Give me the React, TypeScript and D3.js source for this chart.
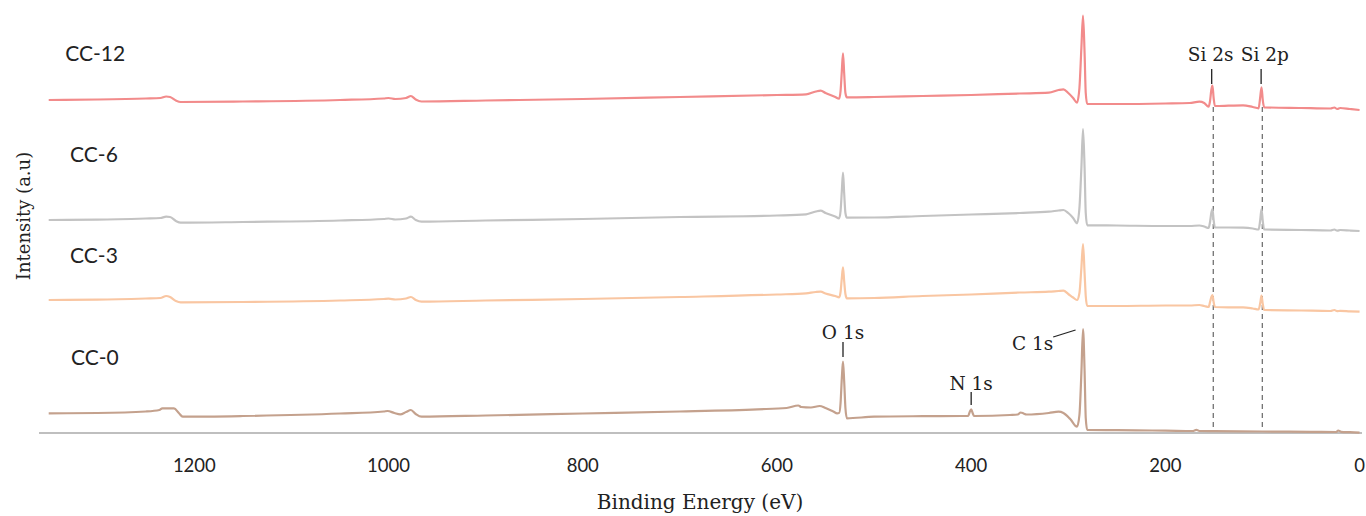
import React from "react";
import * as d3 from "d3";

// Binding energy (eV) / intensity (a.u., stacked) pairs
const cc12: [number, number][] = [
  [1350, 333], [1300, 333.5], [1250, 334.5], [1235, 335], [1229, 336.5], [1225, 336], [1219, 332.5], [1214, 331],
  [1150, 331.5], [1050, 333], [1005, 334.5], [1000, 335], [993, 334], [982, 335], [977, 337], [972, 333.5], [966, 331.5],
  [900, 332.5], [800, 334], [700, 336], [600, 338], [570, 338.7], [560, 341.5], [555, 342.3], [550, 340], [540, 336],
  [536, 334.3], [534.5, 342], [533.2, 362], [532, 379.7], [530.8, 360], [529.5, 340], [528, 335.7], [500, 336],
  [450, 337], [400, 338], [350, 339.5], [320, 340.3], [310, 343], [305, 343.7], [300, 340], [295, 335], [291, 330.3],
  [288.5, 345], [286.5, 385], [284.8, 417.3], [283.2, 380], [282, 340], [280.5, 329], [250, 329], [200, 329.5],
  [175, 330], [165, 331.3], [160, 330], [155.5, 326.3], [154, 332], [152.7, 343], [151.5, 347.3], [150.3, 335],
  [149, 327], [135, 327.3], [120, 327.7], [110, 326], [104, 324.7], [102.3, 336], [101, 345.7], [99.7, 333],
  [98.3, 325.7], [60, 325], [30, 324.5], [26, 325.5], [23, 324], [20, 325], [10, 324], [0, 323],
];

const cc6: [number, number][] = [
  [1350, 213], [1300, 213.3], [1250, 214.5], [1235, 215], [1229, 216.3], [1225, 216], [1219, 212], [1214, 210.3],
  [1150, 211], [1050, 212.5], [1005, 214], [1000, 214.5], [993, 213.5], [982, 214.5], [977, 216.3], [972, 213], [966, 211.3],
  [900, 212.5], [800, 214], [700, 216], [600, 217.5], [570, 218.7], [560, 221.5], [555, 222.3], [550, 220], [540, 216.5],
  [536, 214.7], [534.5, 222], [533.2, 242], [532, 260.3], [530.8, 240], [529.5, 220], [528, 215.3], [500, 215.5],
  [450, 217], [400, 218.5], [350, 220], [320, 221.3], [310, 222.5], [305, 223], [300, 220], [295, 215], [291, 209.7],
  [288.5, 225], [286.5, 265], [284.8, 304], [283.2, 265], [282, 220], [280.5, 207.7], [250, 207.5], [200, 207],
  [175, 207], [165, 207.5], [160, 206.5], [155.5, 205], [154, 211], [152.7, 220], [151.5, 224], [150.3, 213],
  [149, 205.5], [135, 205.5], [120, 205.3], [110, 204.5], [104, 203.5], [102.3, 213], [101, 224], [99.7, 212],
  [98.3, 203.5], [60, 203], [30, 202.5], [26, 203.5], [23, 202.3], [20, 203], [10, 202.5], [0, 202],
];

const cc3: [number, number][] = [
  [1350, 133], [1300, 133.3], [1250, 134.5], [1235, 135], [1229, 137], [1225, 136], [1219, 132], [1214, 130.7],
  [1150, 131], [1050, 132.5], [1005, 134], [1000, 134.3], [993, 133.5], [982, 134.5], [977, 136], [972, 133], [966, 131.3],
  [900, 132.5], [800, 134], [700, 136], [600, 138.5], [570, 139.7], [560, 141], [555, 141.3], [550, 139.5], [540, 137],
  [536, 135.7], [534.5, 141], [533.2, 155], [532, 165.7], [530.8, 152], [529.5, 139], [528, 134.7], [500, 135],
  [450, 137], [400, 138.5], [350, 140.5], [320, 141.3], [310, 142], [305, 142.3], [300, 139], [295, 135.5], [291, 133],
  [288.5, 140], [286.5, 165], [284.8, 189], [283.2, 160], [282, 137], [280.5, 127], [250, 127], [200, 127.5],
  [175, 127.5], [165, 128], [160, 127], [155.5, 126], [154, 131], [152.7, 136], [151.5, 138], [150.3, 131],
  [149, 126], [135, 125.7], [120, 125.7], [110, 124.5], [104, 123.5], [102.3, 130], [101, 137.3], [99.7, 129],
  [98.3, 123], [60, 122.5], [30, 122], [26, 123], [23, 121.8], [20, 122.2], [10, 121.7], [0, 121.3],
];

const cc0: [number, number][] = [
  [1350, 19.7], [1300, 20], [1250, 21.5], [1236, 23], [1233, 24.7], [1221, 24.7], [1216, 20], [1212, 16.3],
  [1150, 17], [1050, 19.5], [1005, 21.5], [1001, 22], [994, 20], [988, 18.7], [982, 21], [977, 23], [972, 19], [966, 16.3],
  [900, 17.5], [800, 19.5], [700, 21.5], [620, 23.7], [590, 25], [578, 27.5], [575, 26], [565, 25.5], [556, 27],
  [550, 25], [542, 21.5], [538, 19.7], [536, 20], [534.5, 30], [533.2, 55], [532, 71.3], [530.8, 52], [529.5, 25],
  [528, 14.7], [500, 16.3], [450, 16.8], [410, 17], [403, 17.2], [401.5, 21], [400, 23.7], [398.5, 20], [397, 17],
  [360, 18], [352, 18.5], [349, 20.5], [346, 19.5], [343, 18.5], [320, 20], [310, 21.3], [305, 20], [298, 14],
  [291, 6.3], [288.5, 18], [286.5, 60], [284.8, 104], [283.2, 62], [282, 15], [280.5, 3], [250, 2.8], [230, 2.6],
  [200, 2.4], [172, 2], [168, 3.2], [165, 2], [150, 1.8], [100, 1.5], [50, 1.2], [24, 1], [22, 2.5], [19, 1.2],
  [10, 0.8], [0, 0.3],
];

const seriesNames = ["CC-12", "CC-6", "CC-3", "CC-0"];
const seriesData = [cc12, cc6, cc3, cc0];
const seriesColors = ["#F28B8B", "#C3C3C3", "#F9C6A2", "#C4A18D"];

const xTicks = [1200, 1000, 800, 600, 400, 200, 0];

// peak annotations
const peakLabels = ["O 1s", "N 1s", "C 1s", "Si 2s", "Si 2p"];
const peakEnergies = [532, 400, 284.8, 151.5, 101];

// Series label anchor (energy, intensity)
const seriesLabelPos: [number, number][] = [[1333, 372], [1328, 271], [1328, 170], [1327, 68]];

const W = 1366;
const H = 516;

export default function App() {
  const x = d3.scaleLinear().domain([1360, -2.5]).range([39, 1362]);
  const y = d3.scaleLinear().domain([0, 420]).range([433, 13]);
  const line = d3
    .line<[number, number]>()
    .x((d) => x(d[0]))
    .y((d) => y(d[1]))
    .curve(d3.curveMonotoneX);

  const serif = "'DejaVu Serif', serif";
  const sans = "Lato, 'Open Sans', sans-serif";

  const ann = [
    { tx: x(peakEnergies[0]), ty: y(94), anchor: "middle", l: [[x(532), y(91)], [x(532), y(76)]] },
    { tx: x(peakEnergies[1]), ty: y(43), anchor: "middle", l: [[x(400), y(41)], [x(400), y(28)]] },
    { tx: x(315.5), ty: y(83), anchor: "end", l: [[x(315.5), y(96)], [x(292.5), y(103)]] },
    { tx: x(153.4), ty: y(372), anchor: "middle", l: [[x(152.3), y(364)], [x(152.3), y(349)]] },
    { tx: x(97.5), ty: y(372), anchor: "middle", l: [[x(101.4), y(364)], [x(101.4), y(349)]] },
  ];

  return (
    <svg
      width={W}
      height={H}
      style={{ position: "absolute", left: 0, top: 0, display: "block", background: "#fff" }}
    >
      <rect x={0} y={0} width={W} height={H} fill="#fff" />
      {[peakEnergies[3], peakEnergies[4]].map((e, i) => (
        <line
          key={"d" + i}
          x1={x(e) + 0.8}
          x2={x(e) + 0.8}
          y1={y(326)}
          y2={y(0)}
          stroke="#666"
          strokeWidth={1.2}
          strokeDasharray="5,4"
        />
      ))}
      <line x1={x(1360)} x2={x(-2.5)} y1={y(0)} y2={y(0)} stroke="#BFBFBF" strokeWidth={2} />
      {seriesData.map((d, i) => (
        <path key={seriesNames[i]} d={line(d) || ""} fill="none" stroke={seriesColors[i]} strokeWidth={2.2} strokeLinejoin="round" />
      ))}
      {xTicks.map((t) => (
        <text key={t} x={x(t)} y={472} textAnchor="middle" fontFamily={sans} fontSize={18.5} fill="#222">
          {t}
        </text>
      ))}
      <text x={700} y={509} textAnchor="middle" fontFamily={serif} fontSize={20} fill="#222">
        Binding Energy (eV)
      </text>
      <text transform="translate(30,216) rotate(-90)" textAnchor="middle" fontFamily={serif} fontSize={18} fill="#222">
        Intensity (a.u)
      </text>
      {seriesNames.map((n, i) => (
        <text key={n} x={x(seriesLabelPos[i][0])} y={y(seriesLabelPos[i][1])} fontFamily={sans} fontSize={21} fill="#222">
          {n}
        </text>
      ))}
      {ann.map((a, i) => (
        <g key={peakLabels[i]}>
          <text x={a.tx} y={a.ty} textAnchor={a.anchor as any} fontFamily={serif} fontSize={18.5} fill="#222">
            {peakLabels[i]}
          </text>
          <line x1={a.l[0][0]} y1={a.l[0][1]} x2={a.l[1][0]} y2={a.l[1][1]} stroke="#222" strokeWidth={1.3} />
        </g>
      ))}
    </svg>
  );
}
